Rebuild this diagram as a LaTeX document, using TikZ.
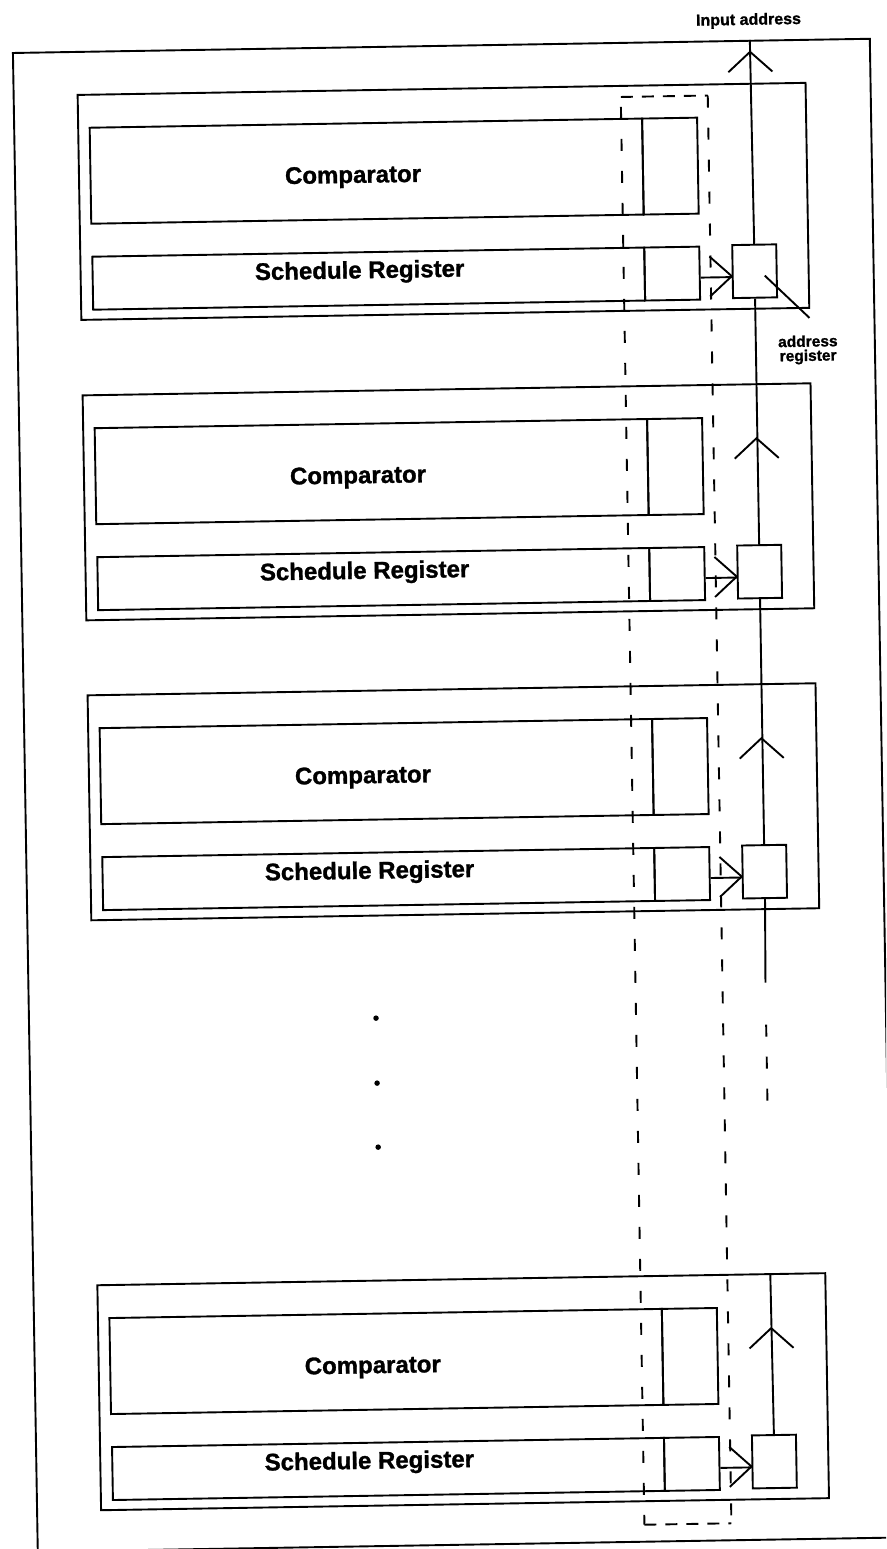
\documentclass[tikz,border=0pt]{standalone}
\usepackage{fontspec}
\setmainfont{Liberation Sans}[BoldFeatures={FakeBold=1.2}]
\begin{document}
\begin{tikzpicture}[x=1pt,y=-1pt, line width=1.9pt,
  box/.style={draw, rectangle, inner sep=0pt, anchor=north west},
  lbl/.style={font=\bfseries\fontsize{24}{28}\selectfont, anchor=base, inner sep=0pt},
  small/.style={font=\bfseries\fontsize{16}{18}\selectfont, anchor=base, inner sep=0pt},
  vdash/.style={dash pattern=on 12pt off 20pt},
  hdash/.style={dash pattern=on 12pt off 9pt},
  dot/.style={circle, fill, draw=none, inner sep=0pt, minimum size=5.5pt}]
\useasboundingbox (0,0) rectangle (886,1549);
\clip (0,0) rectangle (886,1549);
\begin{scope}[rotate around={0.95:(443,775)}, transform shape]
  % outer frame
  \node[box, minimum width=857pt, minimum height=1499pt] (frame) at (24,45) {};
  % blocks
  \foreach \i/\T/\S in {1/88/368,2/388.5/368,3/688.5/368,4/1278.5/358}{
    \node[box, minimum width=728pt, minimum height=225pt] (blk\i) at (88,\T) {};
    \node[box, minimum width=552.5pt, minimum height=96pt] (cmp\i) at (99.5,{\T+33}) {};
    \node[box, minimum width=55pt, minimum height=96pt] (cmpE\i) at (652,{\T+33}) {};
    \node[box, minimum width=552pt, minimum height=53pt] (sch\i) at (100,{\T+162}) {};
    \node[box, minimum width=55pt, minimum height=53pt] (schE\i) at (652,{\T+162}) {};
    \node[box, minimum width=44pt, minimum height=53pt] (addr\i) at (740,{\T+161}) {};
    \node[lbl] (cmpt\i) at (363,{\T+93.5}) {Comparator};
    \node[lbl] (scht\i) at (\S,{\T+189}) {Schedule Register};
    \draw ([yshift=-4.5pt]schE\i.east) -- ([yshift=-5.5pt]addr\i.west);
    \draw (718,{\T+173}) -- (740,{\T+193}) -- (718,{\T+213});
  }
  % bus chevrons inside blocks 2-4
  \foreach \T in {388.5,688.5,1278.5}{
    \draw (740,{\T+75}) -- (762,{\T+55}) -- (784,{\T+75});
  }
  % address bus
  \coordinate (in) at (762,45);
  \draw (in) -- (addr1.north);
  \draw (740,77) -- (762,57) -- (784,77);
  \draw (addr1.south) -- (addr2.north);
  \draw (addr2.south) -- (addr3.north);
  \coordinate (busend) at (762,988);
  \draw (addr3.south) -- (busend);
  \coordinate (dA) at (762,1030);
  \coordinate (dB) at (762,1108);
  \draw[vdash] (dA) -- (dB);
  \coordinate (top4) at (762,1278.5);
  \draw (top4) -- (addr4.north);
  % dashed enclosure
  \coordinate (dl1) at (632,100);
  \coordinate (dr1) at (719,100);
  \coordinate (dl2) at (632,1528);
  \coordinate (dr2) at (719,1528);
  \draw[hdash] (dl1) -- (dr1);
  \draw[hdash] (dl2) -- (dr2);
  \draw[vdash, dash phase=22pt] (dl1) -- (dl2);
  \draw[vdash] (dr1) -- (dr2);
  % labels
  \node[small] (inlbl) at (761,30) {Input address};
  \coordinate (leadA) at (773,281);
  \coordinate (leadB) at (817,324);
  \draw (leadA) -- (leadB);
  \node[small, font=\bfseries\fontsize{15.5}{17}\selectfont] (ar1) at (815,352.8) {address};
  \node[small, font=\bfseries\fontsize{15.5}{17}\selectfont] (ar2) at (815,367) {register};
  % ellipsis dots
  \node[dot] (d1) at (372,1017) {};
  \node[dot] (d2) at (372,1082) {};
  \node[dot] (d3) at (372,1146) {};
\end{scope}
\end{tikzpicture}
\end{document}
